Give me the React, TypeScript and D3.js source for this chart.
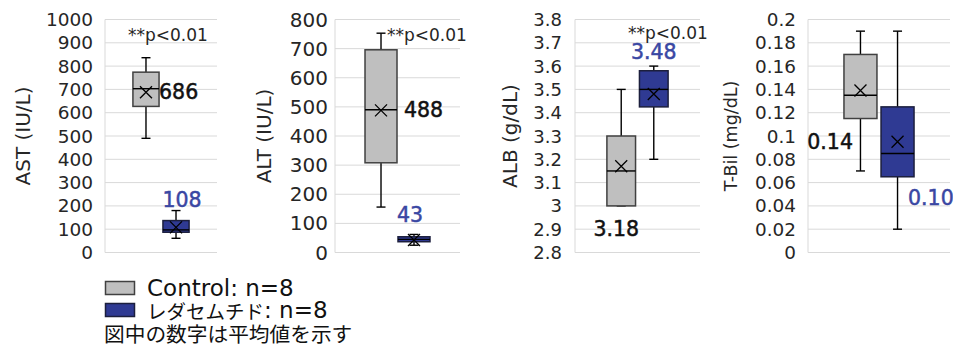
import React from 'react';
import * as d3 from 'd3';

// two series, one category per panel
const groups = ['Control', 'レダセムチド'];
const titles = ['AST (IU/L)', 'ALT (IU/L)', 'ALB (g/dL)', 'T-Bil (mg/dL)'];
const yDomains = [[0, 1000], [0, 800], [2.8, 3.8], [0, 0.2]];
const tickCounts = [10, 8, 10, 10];

// box stats: AST, ALT, ALB, T-Bil
const controlMin = [490, 156, 3.0, 0.07];
const controlQ1 = [627, 308, 3.0, 0.115];
const controlMedian = [703, 490, 3.15, 0.135];
const controlQ3 = [774, 696, 3.3, 0.17];
const controlMax = [836, 753, 3.5, 0.19];
const controlMean = [688, 488, 3.17, 0.139];
const controlMeanLabels = ['686', '488', '3.18', '0.14'];

const treatMin = [61, 25, 3.2, 0.02];
const treatQ1 = [87, 37, 3.425, 0.065];
const treatMedian = [97, 45, 3.5, 0.085];
const treatQ3 = [137, 54, 3.58, 0.125];
const treatMax = [180, 62, 3.6, 0.19];
const treatMean = [108, 43, 3.48, 0.095];
const treatMeanLabels = ['108', '43', '3.48', '0.10'];

const pLabels = ['**p<0.01', '**p<0.01', '**p<0.01', ''];

const legendNames = ['Control', 'レダセムチド'];
const legendCounts = [': n=8', ': n=8'];
const note = '図中の数字は平均値を示す';

const FONT = 'DejaVu Sans, "Noto Sans CJK JP", sans-serif';
const JP = '"Noto Sans CJK JP", sans-serif';
const GRID = '#d9d9d9';
const fills = ['#bfbfbf', '#2f3a93'];
const strokes = ['#404040', '#1c1f3d'];
const labelColors = ['#111111', '#3a47a3'];

const top = 19.5;
const bottom = 252.5;

type Lab = { ref: 'left' | 'right' | 'center'; dx: number; anchor: string; yRef: 'mean' | 'q1' | 'max'; dy: number };

const layout: {
  left: number; right: number; pi: number; po: number; tickX: number; tickSize: number;
  titleX: number; titleSize: number; pX: number; pY: number; labs: Lab[];
}[] = [
  {
    left: 105, right: 217, pi: 0.13, po: 0.93, tickX: 93, tickSize: 18.5, titleX: 23, titleSize: 20, pX: 128, pY: 35,
    labs: [
      { ref: 'right', dx: 0, anchor: 'start', yRef: 'mean', dy: 0 },
      { ref: 'center', dx: 6, anchor: 'middle', yRef: 'max', dy: -11 },
    ],
  },
  {
    left: 335, right: 460, pi: 0.03, po: 0.91, tickX: 328, tickSize: 20, titleX: 264, titleSize: 20, pX: 387, pY: 35,
    labs: [
      { ref: 'right', dx: 7, anchor: 'start', yRef: 'mean', dy: 0 },
      { ref: 'center', dx: -4, anchor: 'middle', yRef: 'max', dy: -19 },
    ],
  },
  {
    left: 575, right: 700, pi: 0.12, po: 0.98, tickX: 562, tickSize: 18, titleX: 510, titleSize: 20, pX: 628, pY: 33,
    labs: [
      { ref: 'center', dx: -5, anchor: 'middle', yRef: 'q1', dy: 23 },
      { ref: 'center', dx: 0, anchor: 'middle', yRef: 'max', dy: -14 },
    ],
  },
  {
    left: 808, right: 950, pi: 0.11, po: 0.97, tickX: 796, tickSize: 18.4, titleX: 731, titleSize: 17.5, pX: 0, pY: 0,
    labs: [
      { ref: 'left', dx: 9, anchor: 'end', yRef: 'q1', dy: 23 },
      { ref: 'right', dx: -6, anchor: 'start', yRef: 'q1', dy: 21 },
    ],
  },
];

const fmt = (v: number) => String(+v.toFixed(6));

function Panel({ i }: { i: number }) {
  const L = layout[i];
  const y = d3.scaleLinear().domain(yDomains[i]).range([bottom, top]);
  const x = d3.scaleBand<string>().domain(groups).range([L.left, L.right]).paddingInner(L.pi).paddingOuter(L.po);
  const ticks = d3.ticks(yDomains[i][0], yDomains[i][1], tickCounts[i]);
  const bw = x.bandwidth();
  const stats = [
    { min: controlMin[i], q1: controlQ1[i], med: controlMedian[i], q3: controlQ3[i], max: controlMax[i], mean: controlMean[i], label: controlMeanLabels[i] },
    { min: treatMin[i], q1: treatQ1[i], med: treatMedian[i], q3: treatQ3[i], max: treatMax[i], mean: treatMean[i], label: treatMeanLabels[i] },
  ];
  const cap = 4.5;
  const mk = 6;
  return (
    <g>
      {ticks.map((t) => (
        <line key={'g' + t} x1={L.left} x2={L.right} y1={y(t)} y2={y(t)} stroke={GRID} strokeWidth={1} />
      ))}
      <line x1={L.left} x2={L.left} y1={top} y2={bottom} stroke={GRID} strokeWidth={1} />
      {ticks.map((t) => (
        <text key={'t' + t} x={L.tickX} y={y(t)} textAnchor="end" dominantBaseline="central"
          fontFamily={FONT} fontSize={L.tickSize} fill="#262626">{fmt(t)}</text>
      ))}
      <text transform={`translate(${L.titleX},${(top + bottom) / 2}) rotate(-90)`} textAnchor="middle"
        dominantBaseline="central" fontFamily={FONT} fontSize={L.titleSize} fill="#262626">{titles[i]}</text>
      {stats.map((s, k) => {
        const x0 = x(groups[k]) as number;
        const cx = x0 + bw / 2;
        return (
          <g key={k}>
            <line x1={cx} x2={cx} y1={y(s.max)} y2={y(s.q3)} stroke="#000" strokeWidth={1.4} />
            <line x1={cx} x2={cx} y1={y(s.q1)} y2={y(s.min)} stroke="#000" strokeWidth={1.4} />
            <line x1={cx - cap} x2={cx + cap} y1={y(s.max)} y2={y(s.max)} stroke="#000" strokeWidth={1.4} />
            <line x1={cx - cap} x2={cx + cap} y1={y(s.min)} y2={y(s.min)} stroke="#000" strokeWidth={1.4} />
            <rect x={x0} y={y(s.q3)} width={bw} height={y(s.q1) - y(s.q3)} fill={fills[k]} stroke={strokes[k]} strokeWidth={1.5} />
            <line x1={x0} x2={x0 + bw} y1={y(s.med)} y2={y(s.med)} stroke="#000" strokeWidth={1.4} />
            <path d={`M${cx - mk},${y(s.mean) - mk}L${cx + mk},${y(s.mean) + mk}M${cx - mk},${y(s.mean) + mk}L${cx + mk},${y(s.mean) - mk}`}
              stroke="#000" strokeWidth={1.3} fill="none" />
          </g>
        );
      })}
      {stats.map((s, k) => {
        const lab = L.labs[k];
        const x0 = x(groups[k]) as number;
        const bx = lab.ref === 'left' ? x0 : lab.ref === 'right' ? x0 + bw : x0 + bw / 2;
        const by = lab.yRef === 'mean' ? y(s.mean) : lab.yRef === 'q1' ? y(s.q1) : y(s.max);
        return (
          <text key={'l' + k} x={bx + lab.dx} y={by + lab.dy} textAnchor={lab.anchor} dominantBaseline="central"
            fontFamily={FONT} fontSize={20.5} fill={labelColors[k]} stroke={labelColors[k]} strokeWidth={0.5}>{s.label}</text>
        );
      })}
      {pLabels[i] && (
        <text x={L.pX} y={L.pY} dominantBaseline="central" fontFamily={FONT} fontSize={17} fill="#262626">{pLabels[i]}</text>
      )}
    </g>
  );
}

export default function App() {
  return (
    <svg width={953} height={346} style={{ position: 'absolute', left: 0, top: 0, background: '#fff' }}>
      <rect width={953} height={346} fill="#fff" />
      {titles.map((_, i) => <Panel key={i} i={i} />)}
      {legendNames.map((t, k) => (
        <g key={t}>
          <rect x={105.5} y={281.5 + k * 22} width={29} height={13} fill={fills[k]} stroke={strokes[k]} strokeWidth={1.5} />
          <text x={147} y={288 + k * 22} dominantBaseline="central" fontFamily={FONT} fill="#111">
            <tspan fontFamily={k === 0 ? FONT : JP} fontSize={k === 0 ? 23 : 19.5}>{t}</tspan>
            <tspan fontSize={23}>{legendCounts[k]}</tspan>
          </text>
        </g>
      ))}
      <text x={104} y={333} dominantBaseline="central" fontFamily={JP} fontSize={20.7} fill="#111">{note}</text>
    </svg>
  );
}
